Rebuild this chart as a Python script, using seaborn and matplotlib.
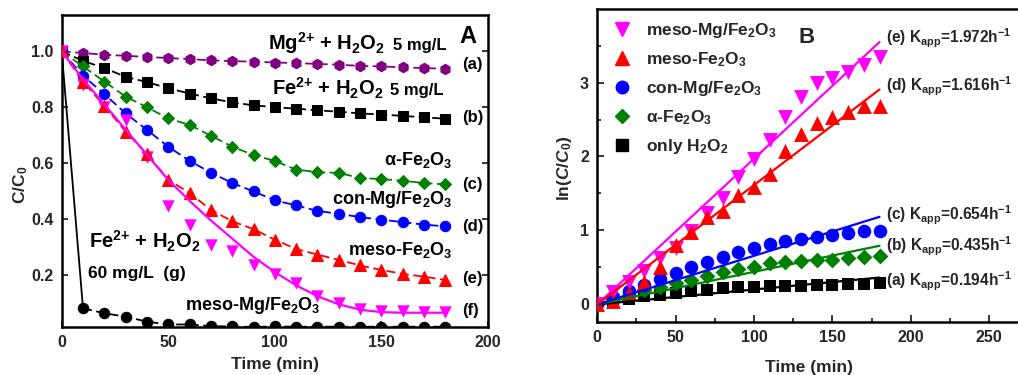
import matplotlib
matplotlib.use("Agg")
import matplotlib.pyplot as plt
import matplotlib.lines as mlines
import seaborn as sns

# ---------------- data ----------------
time = [0, 10, 20, 30, 40, 50, 60, 70, 80, 90, 100, 110, 120, 130, 140, 150, 160, 170, 180]

# Panel A : C/C0
a_mg_h2o2 = [1.000, 0.994, 0.988, 0.984, 0.980, 0.976, 0.972, 0.968, 0.965, 0.963, 0.960, 0.958, 0.955, 0.952, 0.948, 0.946, 0.943, 0.940, 0.938]
b_fe_h2o2 = [1.000, 0.966, 0.940, 0.909, 0.890, 0.868, 0.849, 0.832, 0.817, 0.807, 0.800, 0.795, 0.789, 0.784, 0.778, 0.774, 0.769, 0.764, 0.759]
c_alpha = [1.000, 0.946, 0.892, 0.838, 0.800, 0.760, 0.737, 0.698, 0.659, 0.629, 0.608, 0.577, 0.568, 0.565, 0.547, 0.543, 0.537, 0.529, 0.524]
d_con = [1.000, 0.913, 0.847, 0.778, 0.719, 0.659, 0.608, 0.566, 0.529, 0.499, 0.467, 0.449, 0.429, 0.419, 0.407, 0.398, 0.389, 0.380, 0.374]
e_meso_fe = [1.000, 0.892, 0.805, 0.713, 0.632, 0.541, 0.493, 0.433, 0.392, 0.364, 0.326, 0.293, 0.273, 0.254, 0.234, 0.218, 0.204, 0.194, 0.182]
f_meso_mg = [1.000, 0.880, 0.800, 0.754, 0.623, 0.447, 0.380, 0.309, 0.285, 0.236, 0.204, 0.170, 0.126, 0.098, 0.078, 0.072, 0.070, 0.066, 0.066]
f_fit = [1.000, 0.900, 0.810, 0.720, 0.630, 0.540, 0.465, 0.395, 0.330, 0.265, 0.210, 0.163, 0.124, 0.095, 0.076, 0.067, 0.065, 0.065, 0.065]
g_fe60 = [1.000, 0.081, 0.063, 0.051, 0.033, 0.023, 0.023, 0.017, 0.016, 0.014, 0.016, 0.015, 0.015, 0.015, 0.015, 0.015, 0.015, 0.015, 0.015]

# Panel B : ln(C0/C)
lnB_meso_mg = [0.00, 0.16, 0.30, 0.45, 0.62, 0.76, 0.99, 1.23, 1.43, 1.72, 1.96, 2.22, 2.53, 2.81, 3.00, 3.06, 3.15, 3.24, 3.35]
lnB_meso_fe = [0.00, 0.03, 0.15, 0.30, 0.50, 0.80, 0.98, 1.18, 1.26, 1.47, 1.59, 1.76, 2.08, 2.30, 2.45, 2.54, 2.61, 2.68, 2.68]
lnB_con = [0.00, 0.09, 0.17, 0.26, 0.33, 0.42, 0.50, 0.57, 0.64, 0.70, 0.76, 0.81, 0.85, 0.874, 0.90, 0.93, 0.963, 0.99, 0.99]
lnB_alpha = [0.00, 0.06, 0.12, 0.18, 0.22, 0.28, 0.32, 0.37, 0.43, 0.47, 0.50, 0.55, 0.56, 0.58, 0.60, 0.593, 0.616, 0.63, 0.647]
lnB_h2o2 = [0.00, 0.04, 0.07, 0.10, 0.12, 0.15, 0.17, 0.19, 0.21, 0.22, 0.23, 0.235, 0.24, 0.245, 0.25, 0.26, 0.265, 0.27, 0.277]

fit_time = [0, 180]
fit_meso_mg = [-0.01, 3.555]
fit_meso_fe = [-0.01, 2.91]
fit_con = [-0.01, 1.18]
fit_alpha = [-0.01, 0.787]
fit_h2o2 = [-0.01, 0.355]

legend_labels = ["meso-Mg/Fe$_2$O$_3$", "meso-Fe$_2$O$_3$", "con-Mg/Fe$_2$O$_3$",
                 "\u03b1-Fe$_2$O$_3$", "only H$_2$O$_2$"]
k_labels = ["(e) K$_{app}$=1.972h$^{-1}$", "(d) K$_{app}$=1.616h$^{-1}$",
            "(c) K$_{app}$=0.654h$^{-1}$", "(b) K$_{app}$=0.435h$^{-1}$",
            "(a) K$_{app}$=0.194h$^{-1}$"]

# ---------------- style ----------------
sns.set_style("white")
plt.rcParams.update({
    "font.family": ["Liberation Sans", "DejaVu Sans"],
    "font.weight": "bold",
    "axes.labelweight": "bold",
    "mathtext.fontset": "custom",
    "mathtext.rm": "Liberation Sans:bold",
    "mathtext.bf": "Liberation Sans:bold",
    "mathtext.sf": "Liberation Sans:bold",
    "mathtext.it": "Liberation Sans:italic:bold",
    "mathtext.default": "rm",
    "axes.linewidth": 1.8,
    "axes.edgecolor": "black",
})

PURPLE = "#800080"
GREEN = "#008000"
BLUE = "#0000FF"
RED = "#FF0000"
MAGENTA = "#FF00FF"
BLACK = "#000000"

fig = plt.figure(figsize=(10.18, 3.75), dpi=100)
axA = fig.add_axes([0.0606, 0.1288, 0.4188, 0.8312])
axB = fig.add_axes([0.5867, 0.1421, 0.4621, 0.8331])

dash = (0, (5, 2.5))

# ---------------- panel A ----------------
sns.lineplot(x=time[:2], y=g_fe60[:2], ax=axA, color=BLACK, linewidth=1.3, zorder=2)
sns.lineplot(x=time[1:], y=g_fe60[1:], ax=axA, color=BLACK, linewidth=1.3, linestyle=dash,
             marker="o", markersize=7.5, markeredgecolor=BLACK, zorder=2)

series_A = [
    (a_mg_h2o2, PURPLE, "h", 7.5),
    (b_fe_h2o2, BLACK, "s", 6.5),
    (c_alpha, GREEN, "D", 6.5),
    (d_con, BLUE, "o", 7.5),
]
for vals, col, mk, ms in series_A:
    sns.lineplot(x=time, y=vals, ax=axA, color=col, linewidth=1.3, linestyle=dash,
                 marker=mk, markersize=ms, markeredgecolor=col, zorder=3)

sns.scatterplot(x=time, y=f_meso_mg, ax=axA, color=MAGENTA, marker="v", s=80,
                edgecolor=MAGENTA, linewidth=0, zorder=3)
sns.lineplot(x=time, y=f_fit, ax=axA, color=MAGENTA, linewidth=1.6, zorder=4)
sns.lineplot(x=time, y=e_meso_fe, ax=axA, color=RED, linewidth=1.3, linestyle=dash,
             marker="^", markersize=8.5, markeredgecolor=RED, zorder=3)

axA.set_xlim(0, 200)
axA.set_ylim(0.015, 1.13)
axA.set_xticks([0, 50, 100, 150, 200])
axA.set_yticks([0.2, 0.4, 0.6, 0.8, 1.0])
axA.set_yticklabels(["0.2", "0.4", "0.6", "0.8", "1.0"])
axA.tick_params(axis="both", which="both", direction="in", length=4, width=1.3,
                left=True, right=True, bottom=True, top=False, labelsize=11.5, pad=6)
axA.set_xlabel("Time (min)", fontsize=12.5, labelpad=5)
axA.set_ylabel("C/C$_0$", fontsize=12.5)
axA.yaxis.set_label_coords(-0.074, 0.455)
for lab in axA.get_xticklabels() + axA.get_yticklabels():
    lab.set_fontweight("bold")

txtA = dict(fontweight="bold", color="black")
axA.text(190.6, 1.054, "A", fontsize=17, ha="center", va="center", **txtA)
axA.text(96.9, 1.006, "Mg$^{2{+}}$ + H$_2$O$_2$", fontsize=14.5, ha="left", va="baseline", **txtA)
axA.text(155.4, 1.006, "5 mg/L", fontsize=12, ha="left", va="baseline", **txtA)
axA.text(98.5, 0.843, "Fe$^{2{+}}$ + H$_2$O$_2$", fontsize=14.5, ha="left", va="baseline", **txtA)
axA.text(154.0, 0.843, "5 mg/L", fontsize=12, ha="left", va="baseline", **txtA)
axA.text(183.5, 0.594, "\u03b1-Fe$_2$O$_3$", fontsize=13, ha="right", va="baseline", **txtA)
axA.text(183.5, 0.454, "con-Mg/Fe$_2$O$_3$", fontsize=13, ha="right", va="baseline", **txtA)
axA.text(183.5, 0.272, "meso-Fe$_2$O$_3$", fontsize=13, ha="right", va="baseline", **txtA)
axA.text(57.8, 0.075, "meso-Mg/Fe$_2$O$_3$", fontsize=13, ha="left", va="baseline", **txtA)
axA.text(12.9, 0.296, "Fe$^{2{+}}$ + H$_2$O$_2$", fontsize=14.5, ha="left", va="baseline", **txtA)
axA.text(12.5, 0.188, "60 mg/L  (g)", fontsize=12.5, ha="left", va="baseline", **txtA)
for lbl, yy in zip(["(a)", "(b)", "(c)", "(d)", "(e)", "(f)"],
                   [0.953, 0.763, 0.523, 0.372, 0.189, 0.072]):
    axA.text(187.7, yy, lbl, fontsize=12, ha="left", va="center", **txtA)

# ---------------- panel B ----------------
series_B = [
    (lnB_h2o2, fit_h2o2, BLACK, "s", 70),
    (lnB_alpha, fit_alpha, GREEN, "D", 65),
    (lnB_con, fit_con, BLUE, "o", 95),
    (lnB_meso_mg, fit_meso_mg, MAGENTA, "v", 115),
    (lnB_meso_fe, fit_meso_fe, RED, "^", 115),
]
for vals, fit, col, mk, sz in series_B:
    sns.scatterplot(x=time, y=vals, ax=axB, color=col, marker=mk, s=sz,
                    edgecolor=col, linewidth=0, zorder=3)
for vals, fit, col, mk, sz in series_B:
    sns.lineplot(x=fit_time, y=fit, ax=axB, color=col, linewidth=1.6, zorder=4)

axB.set_xlim(0, 300)
axB.set_ylim(-0.245, 4.0)
axB.set_xticks([0, 50, 100, 150, 200, 250])
axB.set_xticks([25, 75, 125, 175, 225], minor=True)
axB.set_yticks([0, 1, 2, 3])
axB.set_yticks([0.5, 1.5, 2.5, 3.5], minor=True)
axB.tick_params(axis="both", which="major", direction="in", length=5, width=1.3,
                left=True, bottom=True, right=False, top=False, labelsize=11.5, pad=6)
axB.tick_params(axis="both", which="minor", direction="in", length=3, width=1.3,
                left=True, bottom=True, right=False, top=False)
axB.set_xlabel("Time (min)", fontsize=12.5)
axB.xaxis.set_label_coords(0.45, -0.123)
axB.set_ylabel("ln($\\mathit{C/C_0}$)", fontsize=12.5)
axB.yaxis.set_label_coords(-0.05, 0.49)
for lab in axB.get_xticklabels() + axB.get_yticklabels():
    lab.set_fontweight("bold")

handles = [
    mlines.Line2D([], [], color=MAGENTA, marker="v", linestyle="none", markersize=10),
    mlines.Line2D([], [], color=RED, marker="^", linestyle="none", markersize=10),
    mlines.Line2D([], [], color=BLUE, marker="o", linestyle="none", markersize=9),
    mlines.Line2D([], [], color=GREEN, marker="D", linestyle="none", markersize=7.5),
    mlines.Line2D([], [], color=BLACK, marker="s", linestyle="none", markersize=8),
]
leg = axB.legend(handles, legend_labels, loc="upper left", bbox_to_anchor=(0.015, 0.985),
                 frameon=False, fontsize=12.5, handlelength=1.2, handletextpad=0.8,
                 labelspacing=0.58, borderaxespad=0.0)
for t in leg.get_texts():
    t.set_fontweight("bold")

axB.text(133.5, 3.62, "B", fontsize=16, ha="center", va="center", fontweight="bold")
for lbl, yy in zip(k_labels, [3.60, 2.95, 1.20, 0.78, 0.31]):
    axB.text(184.0, yy, lbl, fontsize=11.2, ha="left", va="center", fontweight="bold")

fig.savefig("out.png", dpi=100)
